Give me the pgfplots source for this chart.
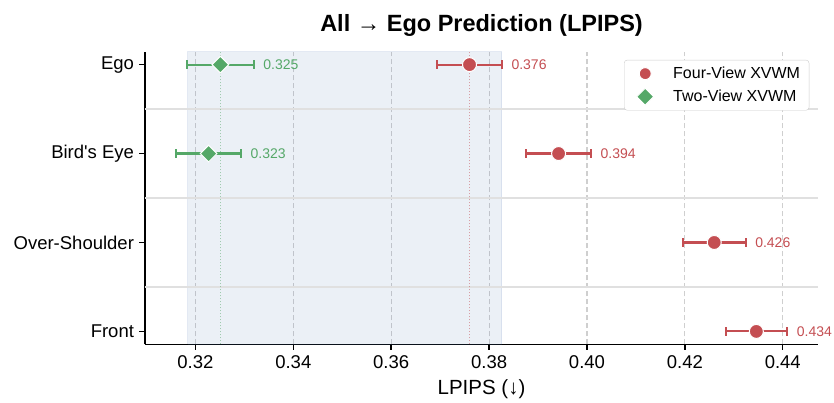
\documentclass[border=0pt]{standalone}
\usepackage{fontspec}
\setmainfont{Liberation Sans}
\usepackage{pgfplots}
\pgfplotsset{compat=1.18}
\definecolor{cred}{HTML}{C44E52}
\definecolor{cgreen}{HTML}{55A868}
\definecolor{shade}{HTML}{4C72B0}
\definecolor{sep}{HTML}{E0E0E0}
\definecolor{gridc}{HTML}{CFCFCF}

\pgfplotstableread{
x y e
0.3760 3 0.0066
0.3942 2 0.0066
0.4260 1 0.0064
0.4346 0 0.0063
}\fourview
\pgfplotstableread{
x y e
0.3251 3 0.0068
0.3227 2 0.0066
}\twoview

\begin{document}
\begin{tikzpicture}
\path[use as bounding box] (-145pt,-57.7pt) rectangle (689pt,344.3pt);
\begin{axis}[
  at={(0pt,0pt)}, anchor=south west, scale only axis,
  width=673pt, height=292.6pt,
  xmin=0.3097, xmax=0.4472, ymin=-0.145, ymax=3.145,
  clip mode=individual,
  axis x line*=bottom, axis y line*=left,
  axis line style={-, line width=1.6pt, black},
  tick align=outside, major tick length=5.5pt,
  tick style={black, line width=1.4pt},
  xtick={0.32,0.34,0.36,0.38,0.40,0.42,0.44},
  xticklabels={0.32,0.34,0.36,0.38,0.40,0.42,0.44},
  ytick={0,1,2,3},
  yticklabels={Front,Over-Shoulder,Bird\textquotesingle s Eye,Ego},
  tick label style={font=\fontsize{18.5}{21}\selectfont},
  xticklabel style={yshift=-2.5pt},
  yticklabel style={xshift=-2pt},
  xmajorgrids, ymajorgrids=false,
  grid style={dash pattern=on 5pt off 3pt, gridc, line width=1.1pt},
  xlabel={LPIPS (↓)},
  xlabel style={font=\fontsize{20.5}{23}\selectfont, yshift=-3.5pt},
  title={All → Ego Prediction (LPIPS)},
  title style={font=\fontsize{23.5}{27}\selectfont\bfseries, at={(0.5,1)}, anchor=base, yshift=14pt},
  legend style={at={(0.987,0.972)}, anchor=north east, draw=gray!40, rounded corners=3pt,
    font=\fontsize{16}{19}\selectfont, fill=white, inner xsep=7pt, inner ysep=5pt,
    nodes={inner sep=2pt}, row sep=6pt, column sep=12pt},
  legend cell align=left,
  legend image code/.code={\path[draw=none, fill=none] (0pt,-4pt) rectangle (28pt,4pt); \draw[#1, mark size=6pt] plot coordinates {(14pt,0pt)};},
]
% shaded span
\addplot[forget plot, fill=shade, fill opacity=0.11, draw=shade, draw opacity=0.12, line width=0.8pt]
  coordinates {(0.3184,-0.145) (0.3826,-0.145) (0.3826,3.145) (0.3184,3.145) (0.3184,-0.145)};
% separators
\addplot[forget plot, sep, line width=1.5pt] coordinates {(0.3097,0.5) (0.4472,0.5)};
\addplot[forget plot, sep, line width=1.5pt] coordinates {(0.3097,1.5) (0.4472,1.5)};
\addplot[forget plot, sep, line width=1.5pt] coordinates {(0.3097,2.5) (0.4472,2.5)};
% dotted reference lines
\addplot[forget plot, cgreen, dotted, opacity=0.5, line width=1pt] coordinates {(0.3251,-0.145) (0.3251,3.145)};
\addplot[forget plot, cred, dotted, opacity=0.5, line width=1pt] coordinates {(0.3760,-0.145) (0.3760,3.145)};
% error bars (value +/- error), with caps
\pgfplotsset{ebar/.style={forget plot, line width=2.1pt, mark=|, mark size=4.4pt, mark options={solid, line width=2pt}}}
\addplot[ebar, cred] coordinates {(0.3694,3) (0.3826,3)};
\addplot[ebar, cred] coordinates {(0.3876,2) (0.4008,2)};
\addplot[ebar, cred] coordinates {(0.4196,1) (0.4324,1)};
\addplot[ebar, cred] coordinates {(0.4283,0) (0.4409,0)};
\addplot[ebar, cgreen] coordinates {(0.3183,3) (0.3319,3)};
\addplot[ebar, cgreen] coordinates {(0.3161,2) (0.3293,2)};
% markers
\addplot[only marks, mark=*, mark size=7pt, mark options={draw=white, line width=1pt, fill=cred}]
  table[x=x, y=y] {\fourview};
\addlegendentry{Four-View XVWM}
\addplot[only marks, mark=square*, mark size=5.9pt, mark options={rotate=45, draw=white, line width=1pt, fill=cgreen}]
  table[x=x, y=y] {\twoview};
\addlegendentry{Two-View XVWM}
% value labels
\begin{scope}[every node/.style={anchor=west, inner sep=0pt, xshift=9.5pt, font=\fontsize{14}{16}\selectfont}]
\node[text=cred] at (axis cs:0.3826,3) {0.376};
\node[text=cred] at (axis cs:0.4008,2) {0.394};
\node[text=cred] at (axis cs:0.4324,1) {0.426};
\node[text=cred] at (axis cs:0.4409,0) {0.434};
\node[text=cgreen] at (axis cs:0.3319,3) {0.325};
\node[text=cgreen] at (axis cs:0.3293,2) {0.323};
\end{scope}
\end{axis}
\end{tikzpicture}
\end{document}
